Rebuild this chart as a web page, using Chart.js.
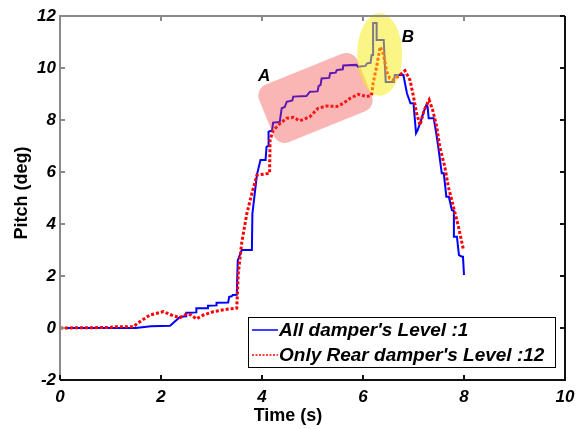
<!DOCTYPE html>
<html>
<head>
<meta charset="utf-8">
<script src="https://cdn.jsdelivr.net/npm/chart.js@4.4.1/dist/chart.umd.min.js"></script>
<style>
  body { margin: 0; background: #fff; }
  canvas { display: block; }
</style>
</head>
<body>
<canvas id="chart" width="586" height="429"></canvas>
<script>
// values
const seriesNames = ["All damper's Level :1", "Only Rear damper's Level :12"];

const timeAll = [0, 1.5, 1.8, 2.18, 2.38, 2.5, 2.5, 2.7, 2.7, 2.93, 2.93, 3.1, 3.1, 3.33, 3.35, 3.4, 3.42, 3.5,
  3.52, 3.6, 3.8, 3.81, 3.9, 3.97, 4.07, 4.09, 4.12, 4.13, 4.2, 4.22, 4.35, 4.39, 4.45, 4.49, 4.6, 4.62, 4.88,
  4.95, 5.1, 5.12, 5.16, 5.18, 5.33, 5.35, 5.46, 5.48, 5.6, 5.61, 5.87, 5.9, 6.05, 6.08, 6.15, 6.17, 6.2, 6.2,
  6.27, 6.27, 6.41, 6.45, 6.61, 6.63, 6.8, 6.87, 6.94, 7.0, 7.05, 7.08, 7.13, 7.2, 7.26, 7.28, 7.3, 7.4, 7.45,
  7.49, 7.56, 7.6, 7.65, 7.7, 7.76, 7.8, 7.8, 7.86, 7.9, 7.96, 7.98, 8.0];
const pitchAll = [0, 0, 0.07, 0.09, 0.43, 0.45, 0.59, 0.6, 0.76, 0.76, 0.86, 0.87, 0.97, 0.98, 1.2, 1.22, 1.27, 1.28,
  2.6, 3.0, 3.0, 4.4, 5.9, 6.46, 6.46, 6.97, 7.0, 7.55, 7.6, 7.9, 7.92, 8.45, 8.5, 8.7, 8.75, 8.9, 8.92,
  9.09, 9.1, 9.3, 9.35, 9.6, 9.62, 9.8, 9.82, 9.92, 9.95, 10.1, 10.12, 10.05, 10.08, 10.18, 10.2, 10.5, 10.5, 11.73,
  11.73, 11.08, 11.08, 9.46, 9.46, 9.73, 9.73, 9.03, 8.64, 8.64, 7.49, 7.6, 7.87, 8.3, 8.6, 8.5, 8.07, 8.07, 7.5,
  6.97, 5.95, 5.95, 5.05, 5.05, 4.54, 4.5, 3.51, 3.51, 2.8, 2.74, 2.74, 2.04];

const timeRear = [0, 1.0, 1.05, 1.45, 1.58, 1.78, 2.05, 2.24, 2.38, 2.5, 2.6, 2.7, 2.84, 3.04, 3.3, 3.5, 3.53,
  3.6, 3.7, 3.8, 3.9, 4.15, 4.16, 4.22, 4.36, 4.49, 4.62, 4.75, 4.95, 5.11, 5.28, 5.48, 5.61, 5.74, 5.91, 6.07,
  6.17, 6.2, 6.27, 6.34, 6.4, 6.47, 6.53, 6.6, 6.73, 6.83, 6.93, 7.0, 7.06, 7.13, 7.21, 7.31, 7.38, 7.46, 7.52,
  7.62, 7.69, 7.79, 7.89, 7.99];
const pitchRear = [0, 0.02, 0.05, 0.05, 0.24, 0.5, 0.63, 0.47, 0.4, 0.53, 0.5, 0.35, 0.5, 0.63, 0.72, 0.76, 2.1,
  3.3, 4.4, 5.18, 5.88, 5.95, 7.23, 7.6, 7.87, 8.07, 8.1, 7.97, 8.13, 8.45, 8.54, 8.52, 8.64, 8.83, 8.99, 8.9,
  8.95, 9.41, 10.05, 10.82, 10.56, 9.86, 9.6, 9.54, 9.73, 9.9, 9.54, 8.9, 8.26, 7.8, 8.38, 8.77, 8.38, 7.74, 6.97,
  6.2, 5.43, 4.67, 3.9, 3.0];

const xTicks = [0, 2, 4, 6, 8, 10];
const yTicks = [-2, 0, 2, 4, 6, 8, 10, 12];

// highlighted regions, anchored in data units
const regionA = { t: 5.06, v: 8.85, w: 106, h: 62, angle: -22, radius: 12, label: "A", labelT: 4.04, labelV: 9.69 };
const regionB = { t: 6.33, v: 10.52, rx: 22.5, ry: 41.5, label: "B", labelT: 6.89, labelV: 11.19 };

const toPoints = (ts, vs) => ts.map((t, i) => ({ x: t, y: vs[i] }));

const overlays = {
  id: "overlays",
  afterDatasetsDraw(chart) {
    const { ctx, chartArea: a } = chart;
    const xs = chart.scales.x, ys = chart.scales.y;
    const labelFont = "italic bold 17px 'Liberation Sans', Arial, sans-serif";

    // region A: rotated rounded box
    ctx.save();
    ctx.translate(xs.getPixelForValue(regionA.t), ys.getPixelForValue(regionA.v));
    ctx.rotate(regionA.angle * Math.PI / 180);
    ctx.beginPath();
    ctx.roundRect(-regionA.w / 2, -regionA.h / 2, regionA.w, regionA.h, regionA.radius);
    ctx.fillStyle = "rgba(243, 60, 60, 0.38)";
    ctx.fill();
    ctx.restore();

    // region B: ellipse
    ctx.save();
    ctx.beginPath();
    ctx.ellipse(xs.getPixelForValue(regionB.t), ys.getPixelForValue(regionB.v), regionB.rx, regionB.ry, 0, 0, Math.PI * 2);
    ctx.fillStyle = "rgba(246, 236, 20, 0.52)";
    ctx.fill();
    ctx.restore();

    ctx.save();
    ctx.font = labelFont;
    ctx.fillStyle = "#000";
    ctx.textAlign = "center";
    ctx.textBaseline = "middle";
    ctx.fillText(regionA.label, xs.getPixelForValue(regionA.labelT), ys.getPixelForValue(regionA.labelV));
    ctx.fillText(regionB.label, xs.getPixelForValue(regionB.labelT), ys.getPixelForValue(regionB.labelV));
    ctx.restore();

    // box frame and inward ticks
    ctx.save();
    ctx.lineWidth = 2;
    ctx.strokeStyle = "#8a8a8a";
    ctx.beginPath();
    ctx.moveTo(a.left, a.bottom); ctx.lineTo(a.left, a.top); ctx.lineTo(a.right, a.top);
    xTicks.forEach((t) => { const px = xs.getPixelForValue(t); ctx.moveTo(px, a.top); ctx.lineTo(px, a.top + 5); });
    yTicks.forEach((v) => { const py = ys.getPixelForValue(v); ctx.moveTo(a.left, py); ctx.lineTo(a.left + 5, py); });
    ctx.stroke();
    ctx.strokeStyle = "#111";
    ctx.beginPath();
    ctx.moveTo(a.left, a.bottom); ctx.lineTo(a.right, a.bottom); ctx.lineTo(a.right, a.top);
    xTicks.forEach((t) => { const px = xs.getPixelForValue(t); ctx.moveTo(px, a.bottom); ctx.lineTo(px, a.bottom - 5); });
    yTicks.forEach((v) => { const py = ys.getPixelForValue(v); ctx.moveTo(a.right, py); ctx.lineTo(a.right - 5, py); });
    ctx.stroke();
    ctx.restore();

    // axis titles
    ctx.save();
    ctx.font = "bold 18px 'Liberation Sans', Arial, sans-serif";
    ctx.fillStyle = "#000";
    ctx.textAlign = "center";
    ctx.textBaseline = "middle";
    ctx.fillText("Time (s)", 288, 416);
    ctx.translate(22, 193);
    ctx.rotate(-Math.PI / 2);
    ctx.fillText("Pitch (deg)", 0, 0);
    ctx.restore();

    // legend inside the plot
    const lx = 248, ly = 317, lw = 307, lh = 50;
    ctx.save();
    ctx.fillStyle = "#fff";
    ctx.fillRect(lx, ly, lw, lh);
    ctx.strokeStyle = "#000";
    ctx.lineWidth = 1;
    ctx.strokeRect(lx + 0.5, ly + 0.5, lw, lh);
    ctx.font = "italic bold 19px 'Liberation Sans', Arial, sans-serif";
    ctx.textBaseline = "middle";
    chart.data.datasets.forEach((ds, i) => {
      const rowY = ly + 13 + i * 25;
      ctx.beginPath();
      ctx.strokeStyle = ds.borderColor;
      ctx.lineWidth = 1.5;
      ctx.setLineDash(ds.borderDash ? [2, 1.5] : []);
      ctx.moveTo(lx + 4, rowY);
      ctx.lineTo(lx + 30, rowY);
      ctx.stroke();
      ctx.setLineDash([]);
      ctx.fillStyle = "#000";
      ctx.fillText(ds.label, lx + 31, rowY + 1);
    });
    ctx.restore();
  }
};

Chart.defaults.font.family = "'Liberation Sans', Arial, sans-serif";

new Chart(document.getElementById("chart"), {
  type: "line",
  data: {
    datasets: [
      {
        label: seriesNames[0],
        data: toPoints(timeAll, pitchAll),
        borderColor: "#0000ff",
        borderWidth: 2,
        pointRadius: 0,
        tension: 0,
        order: 1,
      },
      {
        label: seriesNames[1],
        data: toPoints(timeRear, pitchRear),
        borderColor: "#ff0000",
        borderWidth: 3,
        borderDash: [3, 2],
        borderCapStyle: "butt",
        pointRadius: 0,
        tension: 0,
        order: 0,
      },
    ],
  },
  options: {
    responsive: false,
    animation: false,
    layout: { padding: { top: 16, right: 21, left: 0, bottom: 0 } },
    plugins: { legend: { display: false }, tooltip: { enabled: false } },
    scales: {
      x: {
        type: "linear",
        min: xTicks[0],
        max: xTicks[xTicks.length - 1],
        afterBuildTicks: (s) => { s.ticks = xTicks.map((v) => ({ value: v })); },
        afterFit: (s) => { s.height = 49; },
        grid: { display: false, drawTicks: false },
        border: { display: false },
        ticks: { padding: 7, color: "#000", font: { size: 17, style: "italic", weight: "bold" } },
      },
      y: {
        type: "linear",
        min: yTicks[0],
        max: yTicks[yTicks.length - 1],
        afterBuildTicks: (s) => { s.ticks = yTicks.map((v) => ({ value: v })); },
        afterFit: (s) => { s.width = 60; },
        grid: { display: false, drawTicks: false },
        border: { display: false },
        ticks: { padding: 4, color: "#000", font: { size: 17, style: "italic", weight: "bold" } },
      },
    },
  },
  plugins: [overlays],
});
</script>
</body>
</html>
